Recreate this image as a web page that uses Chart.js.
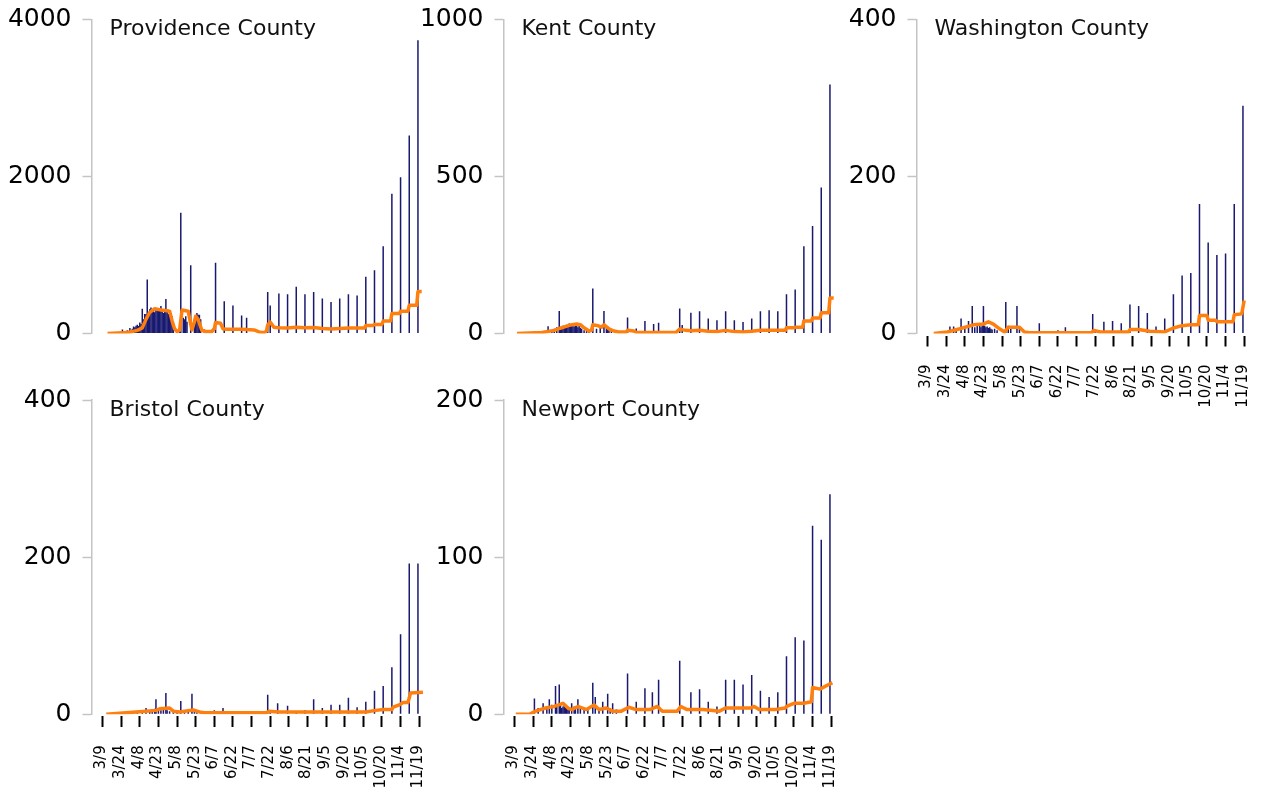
<!DOCTYPE html>
<html>
<head>
<meta charset="utf-8">
<title>Rhode Island counties - daily cases</title>
<script src="https://cdn.jsdelivr.net/npm/chart.js@4.4.0/dist/chart.umd.min.js"></script>
<style>
  html, body { margin: 0; padding: 0; background: #fff; overflow: hidden; }
  #wrap { position: relative; width: 1262px; height: 799px; overflow: hidden; }
  #wrap canvas { position: absolute; }
</style>
</head>
<body>
<div id="wrap">
  <canvas id="c-prov"  width="436" height="420" style="left:0px;top:0px"></canvas>
  <canvas id="c-kent"  width="436" height="420" style="left:412px;top:0px"></canvas>
  <canvas id="c-wash"  width="436" height="420" style="left:825px;top:0px"></canvas>
  <canvas id="c-bris"  width="436" height="419" style="left:0px;top:380px"></canvas>
  <canvas id="c-newp"  width="436" height="419" style="left:412px;top:380px"></canvas>
</div>
<script>
// ── data: day numbers count from 3/1 (= 0) ──────────────────────────────────
const tickDays   = [8, 23, 38, 53, 68, 83, 98, 113, 128, 143, 158, 173, 188, 203, 218, 233, 248, 263];
const tickLabels = ['3/9', '3/24', '4/8', '4/23', '5/8', '5/23', '6/7', '6/22', '7/7', '7/22',
                    '8/6', '8/21', '9/5', '9/20', '10/5', '10/20', '11/4', '11/19'];

const providenceTicks = [0, 2000, 4000];
const providenceCases = [[16,5],[18,8],[20,12],[22,15],[24,50],[26,30],[28,40],[30,70],[32,60],[33,90],[34,80],[35,100],
  [36,110],[37,95],[38,140],[39,120],[40,314],[41,180],[42,250],[43,250],[44,688],[45,260],[46,310],[47,330],[48,280],
  [49,300],[50,270],[51,320],[52,290],[53,300],[54,310],[55,350],[56,280],[57,260],[58,300],[59,440],[60,280],[61,250],
  [62,300],[63,260],[64,220],[65,150],[68,40],[70,60],[71,1537],[73,200],[74,180],[75,220],[76,150],[79,870],[82,180],
  [83,230],[84,260],[85,240],[86,240],[87,180],[90,50],[92,40],[99,900],[106,412],[113,357],[120,230],[124,200],
  [141,530],[143,357],[150,510],[157,500],[164,594],[171,500],[178,530],[185,446],[192,400],[199,446],[206,500],
  [213,484],[220,722],[227,807],[234,1112],[241,1779],[248,1991],[255,2522],[262,3736]];
const providenceAvg = [[12,0],[24,8],[30,20],[36,40],[40,72],[43,180],[46,270],[50,315],[55,300],[60,290],[62,284],
  [64,160],[66,60],[68,25],[70,40],[72,300],[75,290],[77,284],[79,120],[80,45],[82,150],[83,220],[85,180],[86,130],
  [88,40],[91,25],[96,25],[98,60],[99,140],[103,130],[105,60],[108,55],[120,55],[124,50],[130,45],[134,20],[138,10],
  [140,30],[141,110],[143,145],[146,80],[150,72],[157,71],[164,80],[171,72],[178,75],[185,64],[192,58],[199,64],
  [206,71],[213,69],[219,69],[220,103],[226,103],[227,115],[233,115],[234,159],[240,159],[241,254],[247,254],
  [248,284],[254,284],[255,360],[261,360],[262,534],[265,534]];

const kentTicks = [0, 500, 1000];
const kentCases = [[30,3],[33,8],[35,23],[38,10],[40,15],[42,20],[44,72],[45,18],[46,22],[47,25],[48,20],[49,24],
  [50,28],[51,22],[52,32],[53,25],[54,26],[55,30],[56,22],[57,25],[58,28],[59,20],[60,24],[61,18],[62,15],[64,10],
  [66,8],[68,12],[71,143],[74,15],[77,20],[80,72],[82,18],[83,22],[84,15],[86,10],[99,51],[106,16],[113,40],[120,30],
  [124,34],[141,80],[143,27],[150,66],[157,71],[164,48],[171,42],[178,71],[185,42],[192,37],[199,48],[206,71],
  [213,74],[220,71],[227,125],[234,140],[241,278],[248,342],[255,465],[262,793]];
const kentAvg = [[10,0],[30,3],[40,10],[44,16],[52,26],[58,30],[61,28],[64,18],[68,8],[70,10],[71,28],[75,25],
  [78,20],[80,28],[84,15],[88,8],[92,5],[98,5],[99,10],[104,8],[106,4],[138,3],[141,14],[146,10],[150,9],[157,10],
  [164,7],[171,6],[178,10],[185,6],[192,5],[199,7],[206,10],[213,10],[226,10],[227,18],[233,18],[234,20],[240,20],
  [241,40],[247,40],[248,49],[254,49],[255,66],[261,66],[262,113],[265,113]];

const washingtonTicks = [0, 200, 400];
const washingtonCases = [[26,9],[29,9],[31,6],[35,19],[38,8],[41,16],[44,35],[46,8],[48,10],[50,12],[51,8],[52,10],
  [53,35],[54,10],[55,8],[56,9],[57,7],[58,8],[59,6],[60,5],[62,6],[64,4],[71,40],[73,10],[75,6],[80,35],[82,8],
  [98,13],[106,3],[113,4],[119,8],[141,25],[143,4],[150,15],[157,16],[164,13],[171,37],[178,35],[185,26],[192,9],
  [199,19],[206,50],[213,74],[220,77],[227,165],[234,116],[241,100],[248,102],[255,165],[262,290]];
const washingtonAvg = [[13,0],[24,2],[34,6],[45,11],[53,12],[57,15],[61,12],[66,6],[70,2],[73,8],[82,8],[86,2],
  [90,1],[140,1],[142,4],[147,2],[170,2],[171,5],[178,5],[187,3],[199,2],[206,7],[213,10],[220,11],[226,11],
  [227,23],[233,23],[234,17],[240,17],[241,15],[248,15],[254,15],[255,24],[261,25],[263,42]];

const bristolTicks = [0, 200, 400];
const bristolCases = [[36,2],[40,4],[43,8],[46,5],[48,6],[50,7],[51,19],[53,6],[55,5],[57,8],[59,27],[60,5],[62,4],
  [65,3],[68,4],[71,17],[74,4],[77,5],[80,26],[82,5],[84,4],[98,5],[105,8],[112,3],[120,2],[141,25],[143,4],[149,14],
  [157,11],[164,4],[171,5],[178,19],[185,8],[192,12],[199,12],[206,21],[213,9],[220,16],[227,30],[234,36],[241,60],
  [248,102],[255,192],[262,192]];
const bristolAvg = [[11,0],[27,2],[43,4],[51,5],[54,7],[62,8],[65,4],[70,3],[81,5.5],[86,3],[90,2],[140,2],[142,4],
  [150,3],[220,3],[228,5],[234,6],[241,6],[242,9],[247,12],[250,15],[254,15],[256,27],[266,28]];

const newportTicks = [0, 100, 200];
const newportCases = [[24,10],[27,4],[31,7],[34,5],[36,9.5],[38,6],[41,18],[42,5],[44,19],[45,6],[46,4],[47,5],
  [48,6],[49,4],[50,5],[51,3],[52,4],[54,7],[56,5],[57,4],[59,9.5],[61,4],[64,3],[67,4],[71,20],[73,11],[76,4],
  [79,8],[83,13],[85,4],[87,7],[90,3],[99,26],[106,8],[113,16.5],[119,14],[124,22],[141,34],[150,14],[157,16],
  [164,8],[171,5],[178,22],[185,22],[192,19],[199,25],[206,15],[213,11],[220,14],[227,37],[234,49],[241,47],
  [248,120],[255,111],[262,140]];
const newportAvg = [[9,0],[20,0],[25,2],[33,4],[40,5],[47,7],[51,4],[54,3],[59,5],[66,3],[72,6],[76,3],[82,4],
  [87,2],[94,2],[100,4.5],[106,3],[117,3],[123,5],[127,2],[139,2],[142,5],[147,3],[160,3],[173,2],[178,4],[198,4],
  [201,5],[205,3],[218,3],[226,4],[227,5],[233,7],[241,7],[247,8],[248,17],[254,16],[261,19],[264,20]];

// ── styling ───────────────────────────────────────────────────────────────────
const BAR_COLOR = '#191970';
const AVG_COLOR = '#ff7f0e';
const SPINE     = '#c4c4c4';
Chart.defaults.font.family = "'DejaVu Sans', sans-serif";

const topRow    = { padTop: 19.5, xH: 86.5 };
const bottomRow = { padTop: 20,   xH: 84.7 };

// county name written inside the plot, top-left
const panelTitle = {
  id: 'panelTitle',
  afterDraw(chart, args, opts) {
    const { ctx, chartArea } = chart;
    ctx.save();
    ctx.font = "22px 'DejaVu Sans'";
    ctx.fillStyle = '#111';
    ctx.textAlign = 'left';
    ctx.textBaseline = 'alphabetic';
    ctx.fillText(opts.text, chartArea.left + 18, chartArea.top + 15.5);
    ctx.restore();
  }
};

// vertical date labels hanging under the tick marks (top edge flush)
const dateLabels = {
  id: 'dateLabels',
  afterDraw(chart, args, opts) {
    if (!opts.show) return;
    const { ctx, chartArea, scales: { x } } = chart;
    ctx.save();
    ctx.font = "15px 'DejaVu Sans'";
    ctx.fillStyle = '#000';
    ctx.textAlign = 'right';
    ctx.textBaseline = 'middle';
    tickDays.forEach((d, i) => {
      ctx.save();
      ctx.translate(x.getPixelForValue(d) - 1, chartArea.bottom + 31);
      ctx.rotate(-Math.PI / 2);
      ctx.fillText(tickLabels[i], 0, 0);
      ctx.restore();
    });
    ctx.restore();
  }
};

function panel(id, title, cases, avg, yTicks, showDates, row) {
  const toPts = arr => arr.map(([x, y]) => ({ x, y }));
  const yMax = yTicks[yTicks.length - 1];
  return new Chart(document.getElementById(id), {
    type: 'bar',
    data: { datasets: [
      { type: 'line', data: toPts(avg), borderColor: AVG_COLOR, borderWidth: 3.5, pointRadius: 0,
        borderJoinStyle: 'round', tension: 0, order: 0 },
      { type: 'bar', data: toPts(cases), backgroundColor: BAR_COLOR, barThickness: 1.5,
        inflateAmount: 0, borderWidth: 0, order: 1 }
    ] },
    plugins: [panelTitle, dateLabels],
    options: {
      responsive: false, animation: false, events: [],
      layout: { padding: { top: row.padTop, right: 10.6, left: 0, bottom: 0 } },
      plugins: {
        legend: { display: false }, tooltip: { enabled: false },
        panelTitle: { text: title }, dateLabels: { show: showDates }
      },
      scales: {
        x: {
          type: 'linear', min: -0.9, max: 268, offset: false,
          afterBuildTicks: s => { s.ticks = tickDays.map(v => ({ value: v })); },
          afterFit: s => { s.height = row.xH; s.paddingLeft = 0; s.paddingRight = 0; },
          border: { display: false },
          grid: { display: showDates, drawOnChartArea: false, offset: false, tickLength: 13, tickWidth: 2,
                  tickColor: '#000', tickBorderDash: [11, 40], tickBorderDashOffset: 49 },
          ticks: { display: false }
        },
        y: {
          min: 0, max: yMax,
          afterBuildTicks: s => { s.ticks = yTicks.map(v => ({ value: v })); },
          afterFit: s => { s.width = 91.5; s.paddingTop = 0; s.paddingBottom = 0; },
          border: { color: SPINE, width: 1.5 },
          grid: { drawOnChartArea: false, tickLength: 9, tickColor: SPINE, tickWidth: 1.5 },
          ticks: { padding: 11, color: '#000', font: { size: 25 }, callback: v => String(v) }
        }
      }
    }
  });
}

panel('c-prov', 'Providence County', providenceCases, providenceAvg, providenceTicks, false, topRow);
panel('c-kent', 'Kent County',       kentCases,       kentAvg,       kentTicks,       false, topRow);
panel('c-wash', 'Washington County', washingtonCases, washingtonAvg, washingtonTicks, true,  topRow);
panel('c-bris', 'Bristol County',    bristolCases,    bristolAvg,    bristolTicks,    true,  bottomRow);
panel('c-newp', 'Newport County',    newportCases,    newportAvg,    newportTicks,    true,  bottomRow);
</script>
</body>
</html>
